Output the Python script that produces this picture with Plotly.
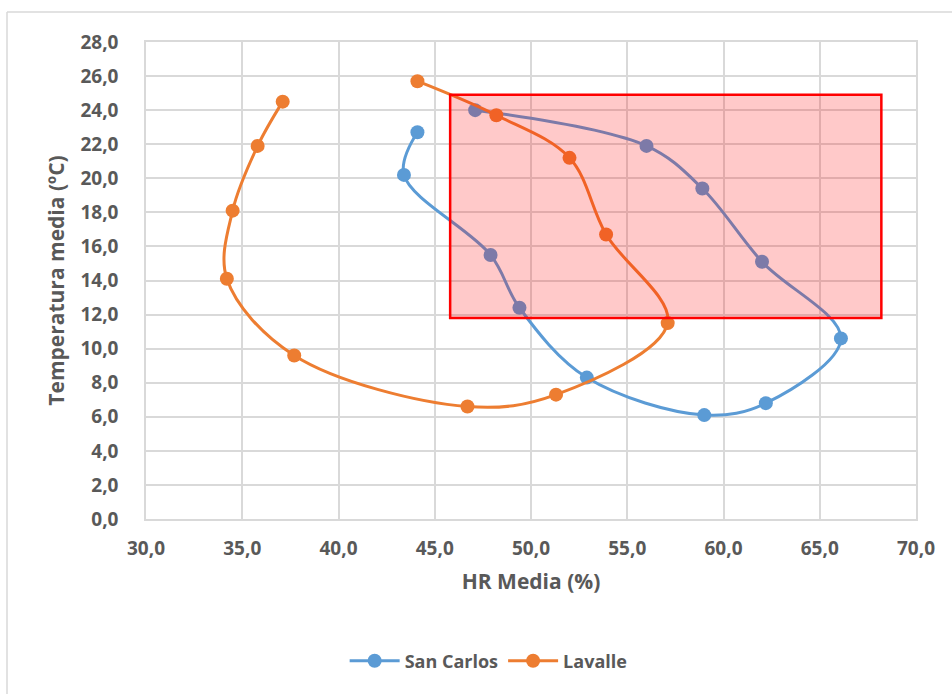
import plotly.graph_objects as go

# Monthly mean relative humidity (%) and mean temperature (ºC)
san_carlos_hr = [44.1, 43.4, 47.9, 49.4, 52.9, 59.0, 62.2, 66.1, 62.0, 58.9, 56.0, 47.1]
san_carlos_t = [22.7, 20.2, 15.5, 12.4, 8.3, 6.1, 6.8, 10.6, 15.1, 19.4, 21.9, 24.0]

lavalle_hr = [37.1, 35.8, 34.5, 34.2, 37.7, 46.7, 51.3, 57.1, 53.9, 52.0, 48.2, 44.1]
lavalle_t = [24.5, 21.9, 18.1, 14.1, 9.6, 6.6, 7.3, 11.5, 16.7, 21.2, 23.7, 25.7]

# Comfort zone bounds (HR %, ºC)
zone_hr = [45.8, 68.2]
zone_t = [11.8, 24.9]

x_ticks = [30, 35, 40, 45, 50, 55, 60, 65, 70]
x_labels = ["30,0", "35,0", "40,0", "45,0", "50,0", "55,0", "60,0", "65,0", "70,0"]
y_ticks = list(range(0, 29, 2))
y_labels = [f"{v},0" for v in y_ticks]

FONT = "Open Sans"
TXT = "#595959"
GRID = "#d9d9d9"

fig = go.Figure()
fig.add_trace(go.Scatter(
    x=san_carlos_hr, y=san_carlos_t, name="San Carlos", mode="lines+markers",
    line=dict(color="#5B9BD5", width=3, shape="spline", smoothing=1.0),
    marker=dict(color="#5B9BD5", size=14),
))
fig.add_trace(go.Scatter(
    x=lavalle_hr, y=lavalle_t, name="Lavalle", mode="lines+markers",
    line=dict(color="#ED7D31", width=3, shape="spline", smoothing=1.0),
    marker=dict(color="#ED7D31", size=14),
))

# Translucent comfort zone drawn over the series
fig.add_shape(
    type="rect", xref="x", yref="y",
    x0=zone_hr[0], x1=zone_hr[1], y0=zone_t[0], y1=zone_t[1],
    fillcolor="rgba(255,0,0,0.21)", line=dict(color="#FF0000", width=2.5),
    layer="above",
)

# Chart area border (left and top edges)
L, R, T, B = 146, 916, 42, 519
W, H = R - L, B - T
px = lambda p: (p - L) / W
py = lambda p: (B - p) / H
fig.add_shape(type="line", xref="paper", yref="paper",
              x0=px(7), x1=px(7), y0=py(12), y1=py(700),
              line=dict(color=GRID, width=1.5))
fig.add_shape(type="line", xref="paper", yref="paper",
              x0=px(7), x1=px(960), y0=py(12), y1=py(12),
              line=dict(color=GRID, width=1.5))

fig.update_layout(
    width=952, height=694,
    margin=dict(l=L, r=952 - R, t=T, b=694 - B),
    paper_bgcolor="white", plot_bgcolor="white",
    font=dict(family=FONT, color=TXT),
    showlegend=True,
    legend=dict(orientation="h", x=0.445, y=py(661), xanchor="center", yanchor="middle",
                font=dict(family=FONT, size=18, color=TXT, weight="bold"),
                itemwidth=50),
)
fig.update_xaxes(
    range=[30, 70], tickvals=x_ticks, ticktext=x_labels,
    showgrid=True, gridcolor=GRID, gridwidth=1.5,
    showline=True, linecolor=GRID, linewidth=1.5, mirror=True,
    zeroline=False, ticks="", ticklabelstandoff=11,
    tickfont=dict(family=FONT, size=19, color=TXT, weight="bold"),
    title=dict(text="HR Media (%)", standoff=15,
               font=dict(family=FONT, size=21, color=TXT, weight="bold")),
)
fig.update_yaxes(
    range=[0, 28], tickvals=y_ticks, ticktext=y_labels,
    showgrid=True, gridcolor=GRID, gridwidth=1.5,
    showline=True, linecolor=GRID, linewidth=1.5, mirror=True,
    zeroline=False, ticks="", ticklabelstandoff=22,
    tickfont=dict(family=FONT, size=19, color=TXT, weight="bold"),
    title=dict(text="Temperatura media (ºC)", standoff=10,
               font=dict(family=FONT, size=21, color=TXT, weight="bold")),
)

fig.write_html("out.html")
